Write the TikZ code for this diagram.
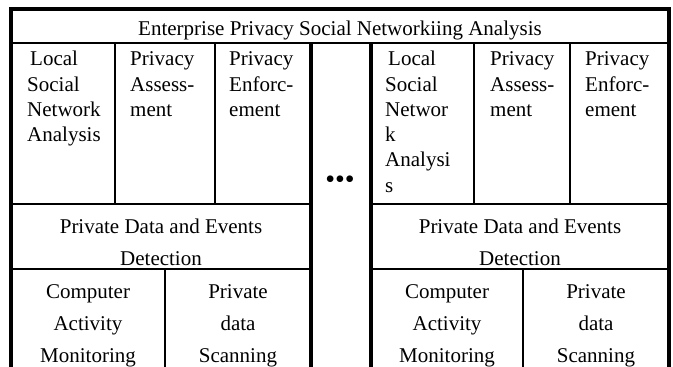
\documentclass[tikz,border=0pt]{standalone}
\usepackage{fontspec}
\setmainfont{Liberation Serif}
\begin{document}
\begin{tikzpicture}[x=1pt,y=-1pt,
  thickline/.style={line width=4pt},
  thinline/.style={line width=2.2pt},
  cell/.style={inner sep=0pt, font=\fontsize{21}{25.3}\selectfont, align=left, anchor=base west},
  ccell/.style={inner sep=0pt, font=\fontsize{21}{32}\selectfont, align=center, anchor=base},
]
\useasboundingbox (0,0) rectangle (673,367);
% horizontal lines
\draw[line width=2.8pt] (11,43) -- (669,43);
\draw[thinline] (11,204) -- (311,204) (371,204) -- (669,204);
\draw[thinline] (11,269) -- (311,269) (371,269) -- (669,269);
% vertical column lines
\draw[thinline] (115,43) -- (115,204) (215,43) -- (215,204)
                (474,43) -- (474,204) (570,43) -- (570,204);
\draw[thinline] (165,269) -- (165,367) (523,269) -- (523,367);
\draw[thickline] (311,43) -- (311,367) (371,43) -- (371,367);
% outer frame
\draw[thickline, line join=miter] (11,367) -- (11,9) -- (669,9) -- (669,367);

% title
\node[ccell] (title) at (340,35.3) {Enterprise Privacy Social Networkiing Analysis};
% left section top row (anchor = baseline of last line)
\node[cell] (lsna1) at (27,141.6) {\hspace{3pt}Local\\Social\\Network\\Analysis};
\node[cell] (pa1) at (130,116.3) {Privacy\\Assess-\\ment};
\node[cell] (pe1) at (229,116.3) {Privacy\\Enforc-\\ement};
% right section top row
\node[cell] (lsna2) at (385,192.2) {\hspace{3pt}Local\\Social\\Networ\\k\\Analysi\\s};
\node[cell] (pa2) at (490,116.3) {Privacy\\Assess-\\ment};
\node[cell] (pe2) at (585,116.3) {Privacy\\Enforc-\\ement};
% dots
\node[inner sep=0pt, anchor=base, font=\fontsize{28}{28}\selectfont] (dots) at (340,188.5) {\textbullet\textbullet\textbullet};
% middle row
\node[ccell] (pd1) at (161,265) {Private Data and Events\\Detection};
\node[ccell] (pd2) at (520,265) {Private Data and Events\\Detection};
% bottom row
\node[ccell] (cam1) at (88,362) {Computer\\Activity\\Monitoring};
\node[ccell] (pds1) at (238,362) {Private\\data\\Scanning};
\node[ccell] (cam2) at (447,362) {Computer\\Activity\\Monitoring};
\node[ccell] (pds2) at (596,362) {Private\\data\\Scanning};
\end{tikzpicture}
\end{document}
